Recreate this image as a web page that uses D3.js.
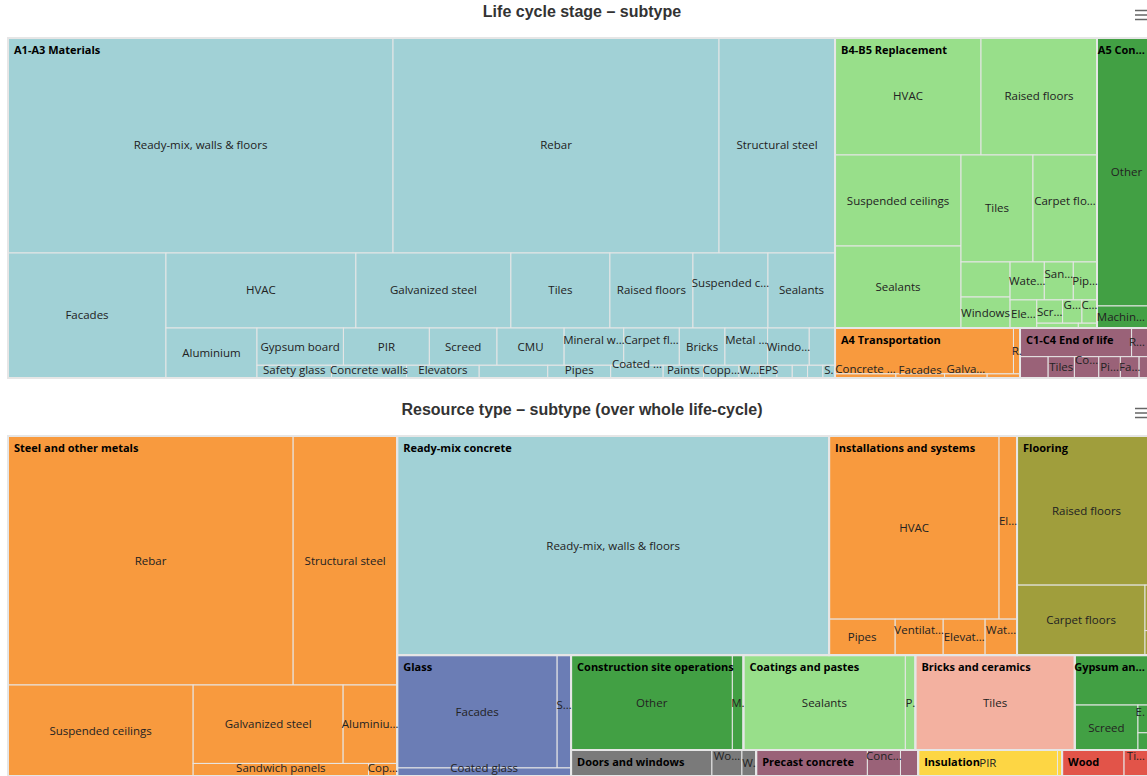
<!DOCTYPE html>
<html>
<head>
<meta charset="utf-8">
<script src="https://cdn.jsdelivr.net/npm/d3@7"></script>
<style>
  body { margin: 0; background: #fff; overflow: hidden; }
  svg { display: block; }
</style>
</head>
<body>
<div id="container"></div>
<script>

// ---- chart 1: life cycle stage -> subtype ----
const stageNames = ['A1-A3 Materials', 'B4-B5 Replacement', 'A5 Construction', 'A4 Transportation', 'C1-C4 End of life']
const stageSubtypes = [
    ['Ready-mix, walls & floors', 'Rebar', 'Structural steel', 'Facades', 'HVAC', 'Galvanized steel', 'Tiles',
        'Raised floors', 'Suspended ceilings', 'Sealants', 'Aluminium', 'Gypsum board', 'PIR', 'Screed', 'CMU',
        'Mineral wool', 'Carpet floors', 'Bricks', 'Metal doors', 'Windows', 'Wooden doors', 'Safety glass',
        'Concrete walls', 'Elevators', 'Sandwich panels', 'Pipes', 'Coated glass', 'Paints', 'Copper',
        'Waterproofing', 'EPS', 'Linoleum', 'Glass wool', 'Steel doors', 'Stairs', 'Wood fibre', 'Fasteners'],
    ['HVAC', 'Raised floors', 'Suspended ceilings', 'Sealants', 'Tiles', 'Carpet floors', 'Metal doors', 'Windows',
        'Waterproofing', 'Sandwich panels', 'Pipes', 'Elevators', 'Screed', 'Gypsum board', 'Coated glass', 'Paints', 'Copper'],
    ['Other', 'Machinery'],
    ['Ready-mix, walls & floors', 'Rebar', 'Concrete walls', 'Facades', 'Galvanized steel', 'Structural steel'],
    ['Ready-mix, walls & floors', 'Rebar', 'Structural steel', 'Tiles', 'Concrete walls', 'Pipes', 'Facades', 'Gypsum board']
]
const stageValues = [
    [827.8, 700.9, 249.4, 197.5, 142.5, 116.3, 74.3, 62.3, 56.3, 50.3, 45.5, 32.2, 32.0, 25.2, 25.0, 22.2, 20.7, 17.0,
        15.9, 15.5, 9.6, 9.5, 9.3, 9.0, 8.5, 7.8, 6.5, 5.0, 4.4, 2.6, 2.1, 1.9, 1.9, 1.9, 1.5, 0.9, 0.87],
    [170.8, 135.7, 114.7, 103.3, 77.0, 68.5, 17.2, 15.2, 13.0, 11.0, 9.0, 7.5, 6.0, 4.5, 3.5, 2.0, 0.9],
    [158.1, 13.0],
    [81.9, 3.0, 2.5, 2.0, 1.75, 1.35],
    [32.0, 7.0, 6.0, 5.6, 5.2, 4.6, 4.0, 3.6]
]

// ---- chart 2: resource type -> subtype ----
const resourceNames = ['Steel and other metals', 'Ready-mix concrete', 'Installations and systems', 'Flooring', 'Glass',
    'Construction site operations', 'Coatings and pastes', 'Bricks and ceramics', 'Gypsum and screed',
    'Doors and windows', 'Precast concrete', 'Insulation', 'Wood']
const resourceSubtypes = [
    ['Rebar', 'Structural steel', 'Suspended ceilings', 'Galvanized steel', 'Aluminium', 'Sandwich panels', 'Copper'],
    ['Ready-mix, walls & floors'],
    ['HVAC', 'Electrical installations', 'Pipes', 'Ventilation ducts', 'Elevators', 'Water heaters'],
    ['Raised floors', 'Carpet floors', 'Linoleum', 'Parquet'],
    ['Facades', 'Safety glass', 'Coated glass'],
    ['Other', 'Machinery'],
    ['Sealants', 'Paints'],
    ['Tiles'],
    ['Gypsum board', 'Screed', 'Exterior plaster', 'Fillers'],
    ['Metal doors', 'Wooden doors', 'Windows'],
    ['Hollow-core slabs', 'Concrete walls', 'Stairs'],
    ['PIR', 'Cellulose'],
    ['Glulam', 'Timber frames']
]
const resourceValues = [
    [709.7, 259.0, 168.4, 117.6, 42.4, 22.0, 3.6],
    [946.1],
    [311.1, 32.9, 23.8, 17.3, 15.1, 11.5],
    [207.1, 89.6, 5.0, 2.7],
    [180.3, 15.7, 14.0],
    [152.9, 10.5],
    [153.5, 9.5],
    [151.1],
    [40.5, 28.4, 5.0, 3.1],
    [36.6, 7.8, 3.7],
    [28.9, 8.6, 4.6],
    [36.2, 1.2],
    [16.1, 8.3]
]

const stageColors = ['#a1d1d6', '#98df8a', '#42a044', '#f89a3e', '#9a6278']
const resourceColors = ['#f89a3e', '#a1d1d6', '#f89a3e', '#a09e3c', '#6b7db5', '#42a044', '#98df8a',
    '#f3b1a0', '#42a044', '#7a7a7a', '#9a6278', '#fdd644', '#e25449']

const width = 1147
const height = 776
const chartWidth = 1164

const LEAF_FONT = '11.5px "Open Sans"'
const PARENT_FONT = 'bold 11px "Open Sans"'

const svg = d3.select('#container').append('svg')
    .attr('width', width)
    .attr('height', height)

const ctx = document.createElement('canvas').getContext('2d')
const textWidth = (s, font) => {
    ctx.font = font
    return ctx.measureText(s).width
}

// shorten with an ellipsis until it fits, like the original labels
const fitText = (s, font, maxW, cellW) => {
    if (textWidth(s, font) <= maxW) return { text: s, cut: false }
    for (let i = s.length - 1; i > 0; i--) {
        const t = s.slice(0, i) + '\u2026'
        if (textWidth(t, font) <= maxW) return { text: t, cut: true }
    }
    if (cellW >= 6) return { text: s[0] + '.', cut: true }
    return null
}

// squarified layout in the way Highcharts does it (columns / rows alternate)
const hcSquarify = (node, x0, y0, x1, y1) => {
    let rx = x0, ry = y0, rw = x1 - x0, rh = y1 - y0
    const scale = rw * rh / node.value
    let dir = node.depth % 2
    let group = []
    let sum = 0
    const ratio = (a, b) => Math.max(a / b, b / a)

    const place = () => {
        if (dir === 0) {
            const w = sum / rh
            let y = ry
            group.forEach(g => {
                const h = g.a / w
                g.n.x0 = rx; g.n.x1 = rx + w; g.n.y0 = y; g.n.y1 = y + h
                y += h
            })
            rx += w; rw -= w
        } else {
            const h = sum / rw
            let x = rx
            group.forEach(g => {
                const w = g.a / h
                g.n.x0 = x; g.n.x1 = x + w; g.n.y0 = ry; g.n.y1 = ry + h
                x += w
            })
            ry += h; rh -= h
        }
        dir = 1 - dir
        group = []
        sum = 0
    }

    node.children.forEach(n => {
        const a = n.value * scale
        if (group.length) {
            const prev = group[group.length - 1].a
            const side = dir === 0 ? rh : rw
            const tOld = sum / side
            const tNew = (sum + a) / side
            if (ratio(tNew, prev / tNew) > ratio(tOld, prev / tOld)) place()
        }
        group.push({ n, a })
        sum += a
    })
    if (group.length) place()
}

const drawTreemap = (title, names, subtypes, values, colors, top) => {
    const plot = { x: 8, y: top + 38, w: 1148, h: 340 }
    const visRight = Math.min(plot.x + plot.w, width) - 1
    const plotBottom = plot.y + plot.h
    const g = svg.append('g')

    g.append('text')
        .attr('x', chartWidth / 2)
        .attr('y', top + 17)
        .attr('text-anchor', 'middle')
        .style('font', 'bold 16px "Liberation Sans", Arial, sans-serif')
        .attr('fill', '#333')
        .text(title)

    // export menu icon
    g.selectAll('line.menu')
        .data([0, 1, 2])
        .join('line')
        .attr('x1', 1135).attr('x2', 1150)
        .attr('y1', d => top + 10.5 + d * 4.5)
        .attr('y2', d => top + 10.5 + d * 4.5)
        .attr('stroke', '#666')
        .attr('stroke-width', 1.5)

    const data = {
        name: 'root',
        children: names.map((n, i) => ({
            name: n,
            color: colors[i],
            children: subtypes[i].map((s, j) => ({ name: s, value: values[i][j] }))
        }))
    }
    const root = d3.hierarchy(data)
        .sum(d => d.value || 0)
        .sort((a, b) => b.value - a.value)
    d3.treemap().size([plot.w, plot.h]).tile(hcSquarify).round(false)(root)

    const body = g.append('g').attr('transform', `translate(${plot.x},${plot.y})`)

    body.selectAll('rect.leaf')
        .data(root.leaves())
        .join('rect')
        .attr('class', 'leaf')
        .attr('x', d => d.x0)
        .attr('y', d => d.y0)
        .attr('width', d => d.x1 - d.x0)
        .attr('height', d => d.y1 - d.y0)
        .attr('fill', d => d.parent.data.color)
        .attr('stroke', '#e6e6e6')
        .attr('stroke-width', 1)

    body.selectAll('rect.group')
        .data(root.children)
        .join('rect')
        .attr('class', 'group')
        .attr('x', d => d.x0)
        .attr('y', d => d.y0)
        .attr('width', d => d.x1 - d.x0)
        .attr('height', d => d.y1 - d.y0)
        .attr('fill', 'none')
        .attr('stroke', '#e6e6e6')
        .attr('stroke-width', 2)

    // labels, overlapping ones are dropped (taller cell wins)
    const labels = []
    root.children.forEach((p, i) => {
        const left = plot.x + p.x0
        const visW = Math.min(plot.x + p.x1, visRight) - left
        const fit = fitText(p.data.name, PARENT_FONT, visW + 2, visW)
        if (!fit) return
        const w = textWidth(fit.text, PARENT_FONT)
        let x = left + 6
        if (x + w > visRight - 1) x = visRight - 1 - w
        labels.push({ text: fit.text, x, y: plot.y + p.y0 + 16, w, font: PARENT_FONT,
            rank: Math.round(p.y1 - p.y0), parent: true, order: i, over: w > visW })
    })
    root.leaves().forEach((d, i) => {
        const left = plot.x + d.x0
        const visW = Math.min(plot.x + d.x1, visRight) - left
        if (visW < 5) return
        const fit = fitText(d.data.name, LEAF_FONT, visW + 3, visW)
        if (!fit) return
        const w = textWidth(fit.text, LEAF_FONT)
        let cx = plot.x + (d.x0 + d.x1) / 2
        cx = Math.max(plot.x + w / 2 + 2, Math.min(visRight - 1 - w / 2, cx))
        let y = plot.y + (d.y0 + d.y1) / 2 + 4
        if (fit.cut && /\s/.test(d.data.name)) y -= 7
        // keep the label inside the plot area
        y = Math.max(plot.y + 12, Math.min(plotBottom - 4, y))
        labels.push({ text: fit.text, x: cx - w / 2, y, w, font: LEAF_FONT,
            rank: Math.round(d.y1 - d.y0), parent: false, order: i, over: w > visW })
    })
    labels.sort((a, b) => b.rank - a.rank ||
        (a.parent === b.parent ? a.order - b.order : (a.parent ? -1 : 1)))
    const shown = []
    labels.forEach(l => {
        const pad = l.over ? -1 : 2
        const box = { x0: l.x + pad, x1: l.x + l.w - pad, y0: l.y - 13, y1: l.y + 6 }
        const hit = shown.some(s => box.x0 < s.box.x1 && box.x1 > s.box.x0 && box.y0 < s.box.y1 && box.y1 > s.box.y0)
        if (!hit) shown.push(Object.assign({ box }, l))
    })

    g.selectAll('text.lbl')
        .data(shown)
        .join('text')
        .attr('class', 'lbl')
        .attr('x', d => d.x)
        .attr('y', d => d.y)
        .style('font', d => d.font)
        .attr('fill', d => d.font === PARENT_FONT ? '#000' : '#222')
        .text(d => d.text)
}

drawTreemap('Life cycle stage \u2013 subtype', stageNames, stageSubtypes, stageValues, stageColors, 0)
drawTreemap('Resource type \u2013 subtype (over whole life-cycle)', resourceNames, resourceSubtypes, resourceValues, resourceColors, 398)

</script>
</body>
</html>
